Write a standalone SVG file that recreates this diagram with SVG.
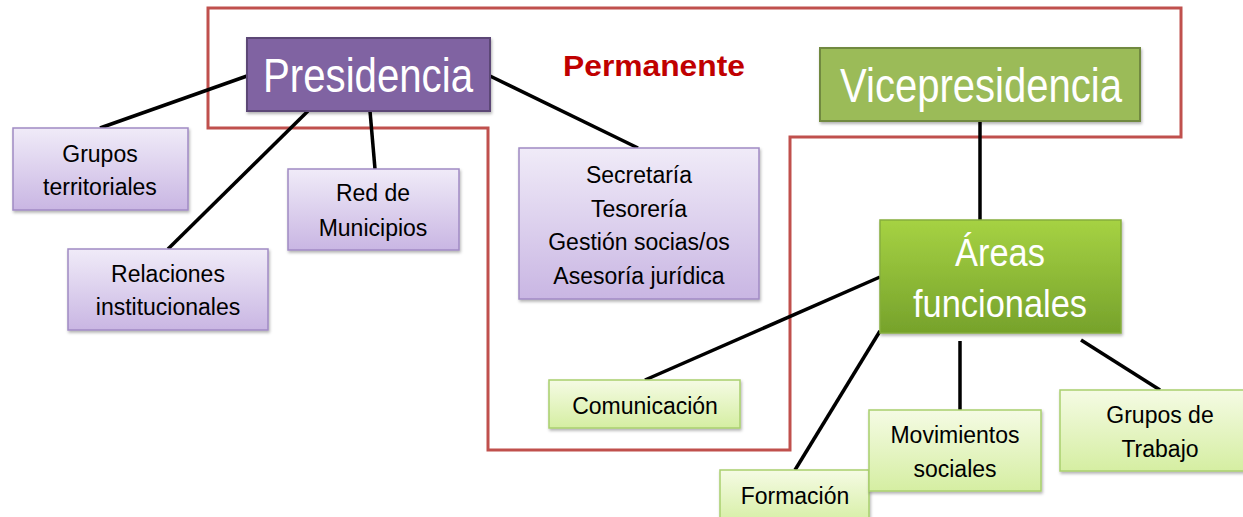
<svg xmlns="http://www.w3.org/2000/svg" width="1243" height="517" viewBox="0 0 1243 517">
<style>
.lav{fill:url(#gLav);stroke:#a08ac4;stroke-width:1.5;filter:url(#sh)}
.lg{fill:url(#gLg);stroke:#a9cf6e;stroke-width:1.5;filter:url(#sh)}
.t{font-family:"Liberation Sans",Arial,sans-serif;font-size:23px;fill:#000;text-anchor:middle}
.big{font-family:"Liberation Sans",Arial,sans-serif;fill:#fff;text-anchor:middle}
.con line{stroke:#000;stroke-width:3.5;stroke-linecap:butt}
</style>
<defs>
<linearGradient id="gLav" x1="0" y1="0" x2="0" y2="1"><stop offset="0" stop-color="#f0ebf8"/><stop offset="1" stop-color="#c9b6e3"/></linearGradient>
<linearGradient id="gLg" x1="0" y1="0" x2="0" y2="1"><stop offset="0" stop-color="#f5fbe4"/><stop offset="1" stop-color="#d5eea2"/></linearGradient>
<linearGradient id="gAr" x1="0" y1="0" x2="0" y2="1"><stop offset="0" stop-color="#a6d243"/><stop offset="1" stop-color="#76a22b"/></linearGradient>
<filter id="sh" x="-10%" y="-10%" width="120%" height="130%"><feDropShadow dx="1" dy="2" stdDeviation="1.5" flood-color="#000" flood-opacity="0.3"/></filter>
</defs>
<rect width="1243" height="517" fill="#fff"/>
<polygon id="permanente-frame" points="208,8 1181,8 1181,137 790,137 790,450 488,450 488,128 208,128" fill="none" stroke="#c0504d" stroke-width="3"/>
<text x="654" y="76" font-family="Liberation Sans,Arial,sans-serif" font-size="30" font-weight="bold" fill="#c00000" text-anchor="middle" textLength="182" lengthAdjust="spacingAndGlyphs">Permanente</text>
<g class="con" id="connectors">
<line x1="247" y1="76" x2="100" y2="128"/>
<line x1="308" y1="111" x2="168" y2="249"/>
<line x1="370" y1="111" x2="375" y2="169"/>
<line x1="490" y1="76" x2="638" y2="148"/>
<line x1="980" y1="121" x2="980" y2="228"/>
<line x1="880" y1="277" x2="645" y2="380"/>
<line x1="880" y1="331" x2="795" y2="470"/>
<line x1="960" y1="341" x2="960" y2="410"/>
<line x1="1081" y1="340" x2="1160" y2="390"/>
</g>
<g id="presidencia">
<rect x="247" y="38" width="243" height="73" fill="#8064a2" stroke="#5c4776" stroke-width="2" filter="url(#sh)"/>
<text class="big" x="368" y="92" font-size="48" textLength="210" lengthAdjust="spacingAndGlyphs">Presidencia</text>
</g>
<g id="vicepresidencia">
<rect x="820" y="48" width="320" height="73" fill="#9bbb59" stroke="#71893f" stroke-width="2" filter="url(#sh)"/>
<text class="big" x="981" y="102" font-size="48" textLength="282" lengthAdjust="spacingAndGlyphs">Vicepresidencia</text>
</g>
<g id="areas">
<rect x="880" y="220" width="241" height="113" fill="url(#gAr)" stroke="#86ae3c" stroke-width="1.5" filter="url(#sh)"/>
<text class="big" x="1000" y="266" font-size="38" textLength="90" lengthAdjust="spacingAndGlyphs">Áreas</text>
<text class="big" x="1000" y="317" font-size="38" textLength="174" lengthAdjust="spacingAndGlyphs">funcionales</text>
</g>
<g id="grupos-territoriales">
<rect class="lav" x="13" y="128" width="175" height="82"/>
<text class="t" x="100" y="162">Grupos</text>
<text class="t" x="100" y="195">territoriales</text>
</g>
<g id="relaciones">
<rect class="lav" x="68" y="249" width="200" height="81"/>
<text class="t" x="168" y="282">Relaciones</text>
<text class="t" x="168" y="315">institucionales</text>
</g>
<g id="red-municipios">
<rect class="lav" x="288" y="169" width="171" height="81"/>
<text class="t" x="373" y="201">Red de</text>
<text class="t" x="373" y="236">Municipios</text>
</g>
<g id="secretaria">
<rect class="lav" x="519" y="148" width="240" height="151"/>
<text class="t" x="639" y="183">Secretaría</text>
<text class="t" x="639" y="217">Tesorería</text>
<text class="t" x="639" y="250">Gestión socias/os</text>
<text class="t" x="639" y="284">Asesoría jurídica</text>
</g>
<g id="comunicacion">
<rect class="lg" x="549" y="380" width="191" height="48"/>
<text class="t" x="645" y="414">Comunicación</text>
</g>
<g id="formacion">
<rect class="lg" x="720" y="470" width="149" height="55"/>
<text class="t" x="795" y="504">Formación</text>
</g>
<g id="movimientos">
<rect class="lg" x="869" y="410" width="172" height="81"/>
<text class="t" x="955" y="443">Movimientos</text>
<text class="t" x="955" y="477">sociales</text>
</g>
<g id="grupos-trabajo">
<rect class="lg" x="1060" y="390" width="190" height="81"/>
<text class="t" x="1160" y="423">Grupos de</text>
<text class="t" x="1160" y="457">Trabajo</text>
</g>
</svg>
